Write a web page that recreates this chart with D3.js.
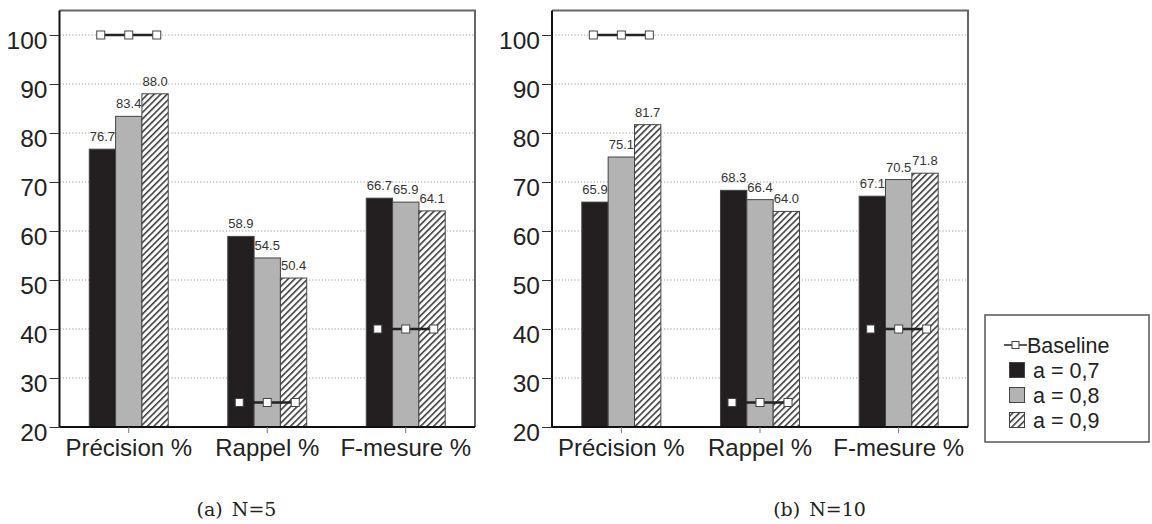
<!DOCTYPE html>
<html>
<head>
<meta charset="utf-8">
<script src="https://cdn.jsdelivr.net/npm/d3@7"></script>
<style>
  html, body { margin: 0; padding: 0; background: #fff; }
  svg { display: block; }
</style>
</head>
<body>
<svg id="chart" width="1152" height="524"></svg>
<script>
// Measures and parameter settings
const categories = ["Précision %", "Rappel %", "F-mesure %"];
const seriesNames = ["a = 0,7", "a = 0,8", "a = 0,9"];
const valuesN5 = [
  [76.7, 58.9, 66.7],   // a = 0,7
  [83.4, 54.5, 65.9],   // a = 0,8
  [88.0, 50.4, 64.1]    // a = 0,9
];
const valuesN10 = [
  [65.9, 68.3, 67.1],
  [75.1, 66.4, 70.5],
  [81.7, 64.0, 71.8]
];
const baseline = [100, 25, 40];
const yTicks = [20, 30, 40, 50, 60, 70, 80, 90, 100];
const captions = ["(a) N=5", "(b) N=10"];

const svg = d3.select("#chart");

// Diagonal hatch for the third series
const defs = svg.append("defs");
const pat = defs.append("pattern")
  .attr("id", "hatch")
  .attr("patternUnits", "userSpaceOnUse")
  .attr("width", 4.6).attr("height", 4.6)
  .attr("patternTransform", "rotate(45)");
pat.append("rect").attr("width", 4.6).attr("height", 4.6).attr("fill", "#fff");
pat.append("line").attr("x1", 0.8).attr("y1", 0).attr("x2", 0.8).attr("y2", 4.6)
  .attr("stroke", "#222").attr("stroke-width", 1.4);

const fills = ["#231f20", "#b3b3b3", "url(#hatch)"];
const SANS = "'Liberation Sans', Arial, Helvetica, sans-serif";

const y = d3.scaleLinear().domain([20, 105]).range([427, 10.5]);

function panel(x0, x1, values, caption, captionX) {
  const g = svg.append("g");
  const x = d3.scaleBand().domain(categories).range([x0, x1])
    .paddingInner(0.43).paddingOuter(0.215);
  const xs = d3.scaleBand().domain(seriesNames).range([0, x.bandwidth()]);
  const xb = d3.scalePoint().domain(seriesNames).range([-28, 28]);
  const center = c => x(c) + x.bandwidth() / 2;

  // dotted gridlines
  g.append("g").selectAll("line").data(yTicks.filter(t => t > 20)).join("line")
    .attr("x1", x0).attr("x2", x1)
    .attr("y1", d => y(d)).attr("y2", d => y(d))
    .attr("stroke", "#9a9a9a").attr("stroke-width", 1)
    .attr("stroke-dasharray", "1.2,2");

  // frame (top and right)
  g.append("path")
    .attr("d", `M${x0},${y(105)}H${x1}V${y(20)}`)
    .attr("fill", "none").attr("stroke", "#666").attr("stroke-width", 2);

  // bars
  const flat = [];
  values.forEach((row, si) => row.forEach((v, ci) =>
    flat.push({ s: seriesNames[si], si, c: categories[ci], v })));

  g.append("g").selectAll("rect").data(flat).join("rect")
    .attr("x", d => x(d.c) + xs(d.s))
    .attr("y", d => y(d.v))
    .attr("width", xs.bandwidth())
    .attr("height", d => y(20) - y(d.v))
    .attr("fill", d => fills[d.si])
    .attr("stroke", "#444").attr("stroke-width", 1);

  // value labels
  g.append("g").selectAll("text").data(flat).join("text")
    .attr("x", d => x(d.c) + xs(d.s) + xs.bandwidth() / 2)
    .attr("y", d => y(d.v) - 8)
    .attr("text-anchor", "middle")
    .attr("font-family", SANS).attr("font-size", 13)
    .attr("fill", "#333")
    .text(d => d.v.toFixed(1));

  // baseline: three markers per category joined by a thick line
  categories.forEach((c, ci) => {
    const pts = seriesNames.map(s => [center(c) + xb(s), y(baseline[ci])]);
    g.append("path").attr("d", d3.line()(pts))
      .attr("fill", "none").attr("stroke", "#222").attr("stroke-width", 2.5);
    g.append("g").selectAll("rect").data(pts).join("rect")
      .attr("x", d => d[0] - 4).attr("y", d => d[1] - 4)
      .attr("width", 8).attr("height", 8)
      .attr("fill", "#fff").attr("stroke", "#444").attr("stroke-width", 1);
  });

  // y axis
  const yAxis = g.append("g").attr("transform", `translate(${x0},0)`)
    .call(d3.axisLeft(y).tickValues(yTicks).tickSize(10).tickPadding(2).tickFormat(d3.format("d")));
  yAxis.select(".domain").attr("d", `M0,${y(105)}V${y(20)}`)
    .attr("stroke", "#111").attr("stroke-width", 2);
  yAxis.selectAll(".tick line").attr("stroke", "#333");
  yAxis.selectAll(".tick text")
    .attr("font-family", SANS).attr("font-size", 24.5).attr("fill", "#222")
    .attr("dy", "0.55em");

  // x axis
  const xAxis = g.append("g").attr("transform", `translate(0,${y(20)})`)
    .call(d3.axisBottom(x).tickSize(6).tickPadding(6));
  xAxis.select(".domain").attr("d", `M${x0},0H${x1}`)
    .attr("stroke", "#111").attr("stroke-width", 2);
  xAxis.selectAll(".tick line").attr("stroke", "#777");
  xAxis.selectAll(".tick text")
    .attr("font-family", SANS).attr("font-size", 24).attr("fill", "#222");

  // caption
  svg.append("text")
    .attr("x", captionX).attr("y", 516)
    .attr("text-anchor", "middle")
    .attr("font-family", "'DejaVu Serif', 'Liberation Serif', serif")
    .attr("font-size", 19).attr("fill", "#222")
    .attr("word-spacing", 3)
    .text(caption);
}

panel(59.5, 475, valuesN5, captions[0], 236.5);
panel(552, 968, valuesN10, captions[1], 819.5);

// legend
const leg = svg.append("g");
const rowStep = 25;
leg.append("rect").attr("x", 985).attr("y", 315).attr("width", 164).attr("height", 127)
  .attr("fill", "#fff").attr("stroke", "#555").attr("stroke-width", 1.5);
leg.append("line").attr("x1", 1004).attr("x2", 1027).attr("y1", 345).attr("y2", 345)
  .attr("stroke", "#222").attr("stroke-width", 1.5);
leg.append("rect").attr("x", 1012).attr("y", 341.5).attr("width", 7).attr("height", 7)
  .attr("fill", "#fff").attr("stroke", "#444").attr("stroke-width", 1);
leg.append("text").attr("x", 1027).attr("y", 353)
  .attr("font-family", SANS).attr("font-size", 21.5).attr("fill", "#222")
  .text("Baseline");
seriesNames.forEach((s, i) => {
  const base = 353 + (i + 1) * rowStep;
  leg.append("rect").attr("x", 1009.5).attr("y", base - 15.5).attr("width", 15).attr("height", 15)
    .attr("fill", fills[i]).attr("stroke", "#444").attr("stroke-width", 1);
  leg.append("text").attr("x", 1033).attr("y", base)
    .attr("font-family", SANS).attr("font-size", 21.5).attr("fill", "#222")
    .text(s);
});
</script>
</body>
</html>
